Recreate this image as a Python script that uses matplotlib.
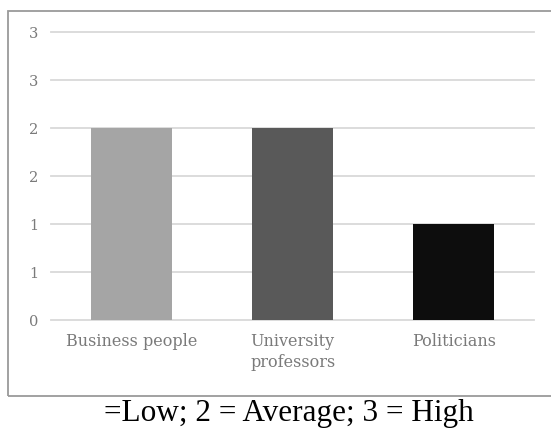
import matplotlib
matplotlib.use("Agg")
from matplotlib import pyplot as plt
from matplotlib.patches import Rectangle

# data
groups = ["Business people", "University\nprofessors", "Politicians"]
scores = [2, 2, 1]
bar_colors = ["#a5a5a5", "#595959", "#0d0d0d"]
y_ticks = [0, 0.5, 1, 1.5, 2, 2.5, 3]
y_labels = ["0", "1", "1", "2", "2", "3", "3"]
caption = "=Low; 2 = Average; 3 = High"


def main():
    fig = plt.figure(figsize=(5.51, 4.28), dpi=100)
    ax = fig.add_axes([0.0926, 0.252, 0.877, 0.673])

    x = range(len(groups))
    ax.bar(x, scores, width=0.5, color=bar_colors, zorder=3)

    ax.set_xlim(-0.5, len(groups) - 0.5)
    ax.set_ylim(0, 3)
    ax.set_yticks(y_ticks)
    ax.set_yticklabels(y_labels)
    ax.set_xticks(list(x))
    ax.set_xticklabels(groups)

    ax.grid(axis="y", color="#d9d9d9", linewidth=1.3, zorder=0)
    for gl in ax.get_ygridlines():
        gl.set_clip_on(False)
    for s in ax.spines.values():
        s.set_visible(False)
    ax.tick_params(length=0, colors="#7a7a7a")
    ax.tick_params(axis="y", pad=9, labelsize=10.5)
    ax.tick_params(axis="x", pad=9, labelsize=11.5)
    for lab in ax.get_xticklabels() + ax.get_yticklabels():
        lab.set_family("DejaVu Serif")
        lab.set_color("#7a7a7a")
    for lab in ax.get_xticklabels():
        lab.set_verticalalignment("top")
        lab.set_multialignment("center")
        lab.set_linespacing(1.3)

    # chart frame, runs off the right edge like the original
    frame = Rectangle((8 / 551, 1 - 396 / 428), 1.0, 385 / 428,
                      transform=fig.transFigure, fill=False,
                      edgecolor="#9a9a9a", linewidth=1.3)
    fig.patches.append(frame)

    fig.text(289 / 551, 1 - 421 / 428, caption, ha="center", va="baseline",
             family="Liberation Serif", fontsize=22.5, color="black")

    plt.savefig("out.png", dpi=100)
    plt.close()


if __name__ == "__main__":
    main()
